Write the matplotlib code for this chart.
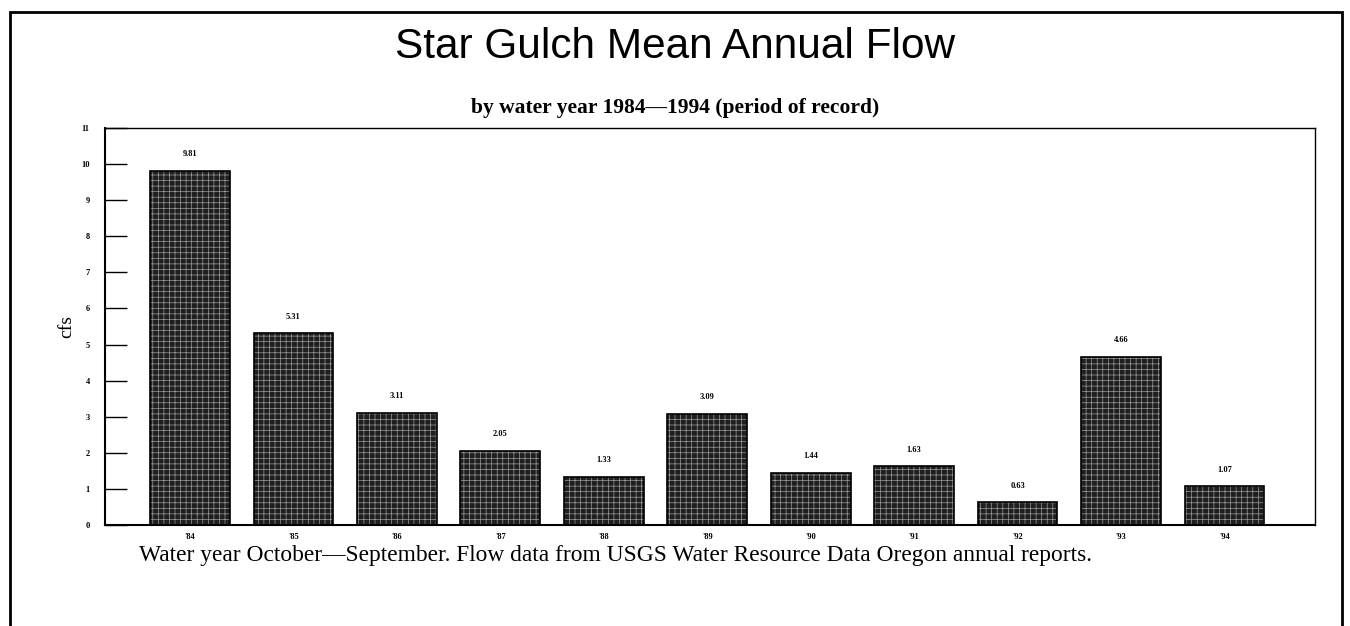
import numpy as np
import matplotlib.pyplot as plt
from matplotlib.patches import Rectangle

years = ["'84", "'85", "'86", "'87", "'88", "'89", "'90", "'91", "'92", "'93", "'94"]
flow = [9.81, 5.31, 3.11, 2.05, 1.33, 3.09, 1.44, 1.63, 0.63, 4.66, 1.07]
flow_labels = ["9.81", "5.31", "3.11", "2.05", "1.33", "3.09", "1.44", "1.63", "0.63", "4.66", "1.07"]
yticks = list(range(0, 12))

fig = plt.figure(figsize=(13.5, 6.26), dpi=100)
# outer frame, running off the bottom of the page
fig.patches.append(Rectangle((10 / 1350, -20 / 626), 1332 / 1350, 634 / 626,
                             transform=fig.transFigure, fill=False,
                             edgecolor="black", linewidth=2))

ax = fig.add_axes([0.0778, 0.1613, 0.896, 0.6342])
x = np.arange(len(years))

# dark screened bars: dark fill, light cross hatching, black outline
plt.rcParams["hatch.linewidth"] = 0.5
ax.bar(x, flow, width=0.77, color="#1f1f1f", edgecolor="#9a9a9a",
       hatch="+++", linewidth=0)
ax.bar(x, flow, width=0.77, fill=False, edgecolor="black", linewidth=1.2)

for xi, v, lab in zip(x, flow, flow_labels):
    ax.text(xi, v + 0.35, lab, ha="center", va="bottom", fontsize=6,
            fontweight="bold", family="Liberation Serif")

ax.set_xlim(-0.82, 10.87)
ax.set_ylim(0, 11)
ax.set_yticks(yticks)
ax.set_yticklabels([str(t) for t in yticks], fontsize=6, fontweight="bold",
                   family="Liberation Serif")
ax.set_xticks(x)
ax.set_xticklabels(years, fontsize=6, fontweight="bold", family="Liberation Serif")
ax.tick_params(axis="y", direction="in", length=16, width=1, pad=11)
ax.tick_params(axis="x", length=0, pad=6)
ax.spines["left"].set_linewidth(1.5)
ax.spines["bottom"].set_linewidth(1.5)
ax.spines["top"].set_linewidth(1)
ax.spines["right"].set_linewidth(1)
ax.set_ylabel("cfs", fontsize=14, family="Liberation Serif", labelpad=4)

fig.text(0.5, 0.925, "Star Gulch Mean Annual Flow", ha="center", va="center",
         fontsize=30.5, family="Liberation Sans")
fig.text(0.5, 0.828, "by water year 1984\u20141994 (period of record)", ha="center",
         va="center", fontsize=15.5, fontweight="bold", family="Liberation Serif")
fig.text(0.4556, 0.112, "Water year October\u2014September. Flow data from USGS Water "
         "Resource Data Oregon annual reports.", ha="center", va="center",
         fontsize=16.8, family="Liberation Serif")

fig.savefig("out.png", dpi=100, facecolor="white")
